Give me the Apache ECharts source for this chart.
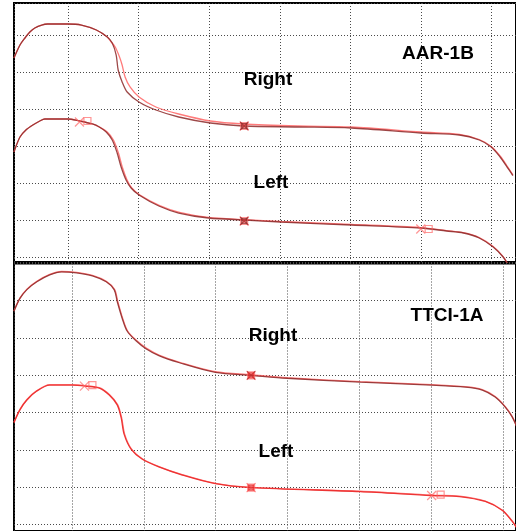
<!DOCTYPE html>
<html>
<head>
<meta charset="utf-8">
<script src="https://cdn.jsdelivr.net/npm/echarts@6/dist/echarts.min.js"></script>
<style>
html,body{margin:0;padding:0;background:#fff;}
#chart{width:516px;height:531px;}
</style>
</head>
<body>
<div id="chart"></div>
<script>
// ---------- DATA (arbitrary grid units; gridlines at integers) ----------
// Top panel: AAR-1B
var aarRightDark = [[0.237,5.378],[0.322,5.730],[0.392,5.919],[0.462,6.081],[0.532,6.189],[0.630,6.270],[0.715,6.297],[0.996,6.297],[1.192,6.270],[1.403,6.135],[1.558,5.946],[1.628,5.784],[1.684,5.459],[1.712,5.054],[1.768,4.730],[1.839,4.459],[2.007,4.189],[2.246,3.973],[2.569,3.784],[3.018,3.622],[3.482,3.541],[4.254,3.514],[5.013,3.486],[5.996,3.351],[6.544,3.297],[6.824,3.162],[6.993,2.973],[7.119,2.703],[7.218,2.432],[7.300,2.200]];
var aarRightPink = [[0.237,5.378],[0.322,5.730],[0.392,5.919],[0.462,6.081],[0.532,6.189],[0.630,6.270],[0.715,6.297],[0.996,6.297],[1.192,6.270],[1.403,6.135],[1.558,5.946],[1.614,5.811],[1.670,5.676],[1.726,5.432],[1.768,5.189],[1.810,4.865],[1.880,4.595],[2.007,4.324],[2.246,4.054],[2.569,3.865],[3.018,3.676],[3.482,3.595],[4.254,3.541],[5.013,3.514],[5.996,3.378],[6.544,3.311],[6.824,3.176],[6.993,2.986],[7.119,2.730],[7.218,2.459],[7.300,2.220]];
var aarLeftDark = [[0.237,2.838],[0.322,3.243],[0.406,3.432],[0.504,3.568],[0.603,3.676],[0.673,3.730],[0.996,3.730],[1.164,3.676],[1.347,3.595],[1.445,3.514],[1.543,3.378],[1.628,3.162],[1.698,2.811],[1.754,2.432],[1.824,2.081],[1.895,1.865],[2.007,1.676],[2.288,1.378],[2.569,1.189],[2.990,1.054],[3.510,1.000],[4.015,0.946],[5.013,0.865],[5.996,0.784],[6.361,0.703],[6.600,0.649],[6.824,0.514],[7.021,0.270],[7.162,0.000],[7.232,-0.216]];
var aarLeftPink = [[0.237,2.838],[0.322,3.243],[0.406,3.432],[0.504,3.568],[0.603,3.676],[0.673,3.730],[0.996,3.730],[1.164,3.676],[1.347,3.595],[1.445,3.514],[1.557,3.378],[1.645,3.162],[1.716,2.811],[1.770,2.432],[1.838,2.081],[1.905,1.865],[2.020,1.676],[2.300,1.390],[2.580,1.205],[2.990,1.070],[3.510,1.010],[4.015,0.960],[5.013,0.880],[5.996,0.795],[6.361,0.715],[6.600,0.660],[6.824,0.525],[7.021,0.282],[7.162,0.010],[7.232,-0.200]];
var aarMarkX  = [[1.164,3.649],[3.496,3.541],[3.496,0.973],[5.996,0.757]];
var aarMarkSq = [[1.277,3.676],[3.496,3.541],[3.496,0.973],[6.108,0.757]];

// Bottom panel: TTCI-1A
var ttciRightDark = [[0.193,5.710],[0.276,6.053],[0.373,6.290],[0.511,6.501],[0.691,6.686],[0.856,6.765],[1.064,6.739],[1.285,6.660],[1.478,6.501],[1.588,6.290],[1.630,5.974],[1.699,5.525],[1.768,5.182],[1.892,4.918],[2.030,4.707],[2.210,4.522],[2.486,4.338],[2.997,4.074],[3.494,3.995],[3.992,3.916],[5.014,3.810],[6.008,3.731],[6.478,3.678],[6.713,3.599],[6.892,3.414],[7.030,3.150],[7.127,2.887],[7.196,2.600]];
var ttciRightPink = [[0.193,5.720],[0.276,6.063],[0.373,6.300],[0.511,6.511],[0.691,6.696],[0.856,6.775],[1.064,6.749],[1.285,6.670],[1.478,6.511],[1.595,6.290],[1.638,5.974],[1.706,5.525],[1.775,5.182],[1.900,4.925],[2.040,4.715],[2.220,4.530],[2.490,4.350],[2.997,4.090],[3.494,4.010],[3.992,3.930],[5.014,3.825],[6.008,3.745],[6.478,3.690],[6.713,3.610],[6.892,3.425],[7.030,3.160],[7.127,2.897],[7.196,2.610]];
var ttciLeftRed = [[0.193,2.728],[0.276,3.071],[0.373,3.335],[0.511,3.573],[0.691,3.731],[1.008,3.731],[1.188,3.704],[1.381,3.652],[1.519,3.467],[1.630,3.203],[1.685,2.860],[1.727,2.412],[1.823,2.016],[1.975,1.752],[2.210,1.541],[2.528,1.330],[2.997,1.092],[3.494,0.987],[5.014,0.881],[6.008,0.776],[6.395,0.749],[6.754,0.617],[6.989,0.380],[7.127,0.090],[7.196,-0.100]];
var ttciLeftPink = [[0.193,2.740],[0.276,3.083],[0.373,3.347],[0.511,3.585],[0.691,3.743],[1.008,3.743],[1.188,3.716],[1.381,3.664],[1.525,3.475],[1.638,3.203],[1.692,2.860],[1.735,2.412],[1.830,2.016],[1.985,1.755],[2.220,1.545],[2.535,1.335],[2.997,1.100],[3.494,0.995],[5.014,0.890],[6.008,0.785],[6.395,0.758],[6.754,0.626],[6.989,0.390],[7.127,0.100],[7.196,-0.090]];
var ttciMarkX  = [[1.174,3.707],[3.494,3.995],[3.494,0.987],[6.008,0.776]];
var ttciMarkSq = [[1.285,3.731],[3.494,3.995],[3.494,0.987],[6.133,0.802]];

var panelTitles = ['AAR-1B', 'TTCI-1A'];
var curveLabels = ['Right', 'Left'];

// ---------- STYLE ----------
var DARK = 'rgba(140,40,40,0.85)';
var PINK = 'rgba(255,100,100,0.85)';
var RED  = 'rgba(235,40,40,0.9)';
var XPATH = 'path://M0,0L10,10M10,0L0,10';

function axisCommon(extra) {
  var base = {
    type: 'value',
    minInterval: 1, maxInterval: 1, splitNumber: 7,
    axisLine: {show: false}, axisTick: {show: false}, axisLabel: {show: false},
    splitLine: {show: true, lineStyle: {color: '#4a4a4a', width: 1, type: [1, 2]}}
  };
  for (var k in extra) base[k] = extra[k];
  return base;
}

function lineSeries(data, color, gi) {
  return {
    type: 'line', data: data, xAxisIndex: gi, yAxisIndex: gi,
    symbol: 'none', smooth: 0.3,
    lineStyle: {color: color, width: 1.3}, clip: true, silent: true
  };
}
function markSeries(data, symbol, size, color, fill, gi) {
  return {
    type: 'scatter', data: data, xAxisIndex: gi, yAxisIndex: gi,
    symbol: symbol, symbolSize: size, silent: true, z: 5,
    itemStyle: {color: fill, borderColor: color, borderWidth: 1.2}
  };
}

var chart = echarts.init(document.getElementById('chart'), null, {renderer: 'canvas'});
var textStyle = {fontFamily: 'Liberation Sans, Arial, sans-serif', fontWeight: 'bold', fontSize: 19, fill: '#000', textAlign: 'center', textVerticalAlign: 'middle'};
function txt(s, x, y) {
  var st = {}; for (var k in textStyle) st[k] = textStyle[k]; st.text = s;
  return {type: 'text', x: x, y: y, z: 100, style: st};
}

chart.setOption({
  animation: false,
  backgroundColor: '#fff',
  grid: [
    {left: 14, top: 3, right: -4, bottom: 269, show: true, borderColor: '#000', borderWidth: 2, backgroundColor: '#fff'},
    {left: 14, top: 263.5, right: -4, bottom: -4, show: true, borderColor: '#000', borderWidth: 2, backgroundColor: '#fff'}
  ],
  xAxis: [
    axisCommon({gridIndex: 0, min: 0.2374, max: 7.344}),
    axisCommon({gridIndex: 1, min: 0.1934, max: 7.182})
  ],
  yAxis: [
    axisCommon({gridIndex: 0, min: -0.135, max: 6.865}),
    axisCommon({gridIndex: 1, min: -0.174, max: 6.989})
  ],
  series: [
    lineSeries(aarRightPink, PINK, 0),
    lineSeries(aarRightDark, DARK, 0),
    lineSeries(aarLeftPink, PINK, 0),
    lineSeries(aarLeftDark, DARK, 0),
    markSeries(aarMarkX, XPATH, 9, PINK, 'transparent', 0),
    markSeries(aarMarkSq, 'rect', 7, PINK, 'transparent', 0),
    markSeries(aarMarkX.slice(1, 3), XPATH, 8, DARK, 'transparent', 0),
    markSeries(aarMarkSq.slice(1, 3), 'rect', 5, DARK, 'rgba(200,50,50,0.6)', 0),

    lineSeries(ttciRightPink, PINK, 1),
    lineSeries(ttciRightDark, DARK, 1),
    lineSeries(ttciLeftPink, PINK, 1),
    lineSeries(ttciLeftRed, RED, 1),
    markSeries(ttciMarkX, XPATH, 9, PINK, 'transparent', 1),
    markSeries(ttciMarkSq, 'rect', 7, PINK, 'transparent', 1),
    markSeries(ttciMarkX.slice(1, 2), XPATH, 8, DARK, 'transparent', 1),
    markSeries(ttciMarkSq.slice(1, 3), 'rect', 5, RED, 'rgba(220,40,40,0.6)', 1)
  ],
  graphic: [
    txt(panelTitles[0], 438, 54),
    txt(curveLabels[0], 268, 80),
    txt(curveLabels[1], 271, 183),
    txt(panelTitles[1], 447, 316),
    txt(curveLabels[0], 273, 336),
    txt(curveLabels[1], 276, 452)
  ]
});
</script>
</body>
</html>
